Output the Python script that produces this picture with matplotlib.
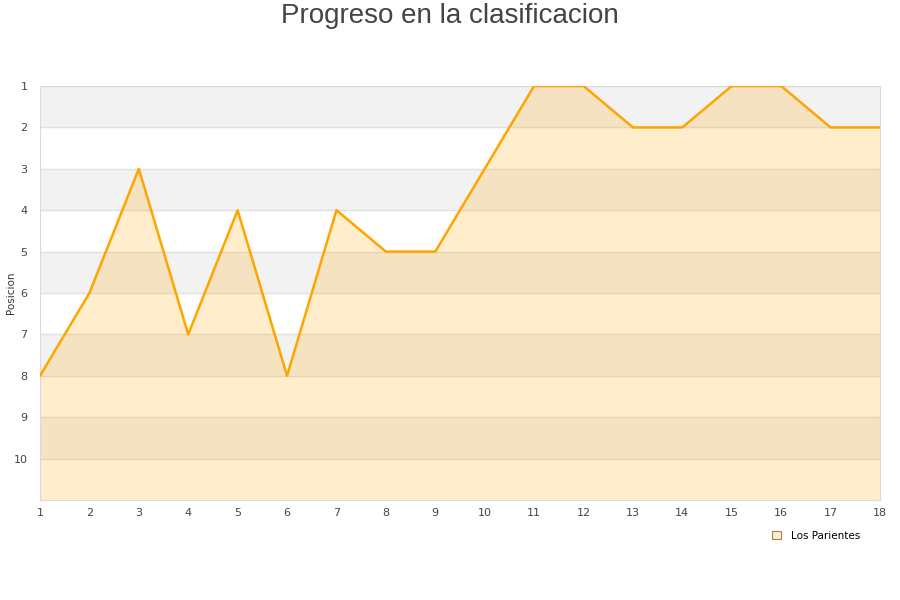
import matplotlib.pyplot as plt
from matplotlib.patches import Patch

# Datos
jornadas = list(range(1, 19))
posicion = [8, 6, 3, 7, 4, 8, 4, 5, 5, 3, 1, 1, 2, 2, 1, 1, 2, 2]
equipo = 'Los Parientes'
ticks_y = list(range(1, 11))

fig = plt.figure(figsize=(9, 6), dpi=100)
ax = fig.add_axes([40 / 900, 100 / 600, 840 / 900, 414 / 600])

# bandas alternas
for i in range(1, 11):
    if i % 2 == 1:
        ax.axhspan(i, i + 1, color='#f2f2f2', zorder=0, lw=0)
for i in range(1, 11):
    ax.axhline(i, color='#e0e0e0', lw=1, zorder=1)

ax.fill_between(jornadas, posicion, 11, color='#ffa500', alpha=0.2, lw=0, zorder=2)
ax.plot(jornadas, posicion, color='#ffa500', lw=1.8, zorder=3)

ax.set_xlim(1, 18)
ax.set_ylim(11, 1)
ax.set_xticks(jornadas)
ax.set_yticks(ticks_y)
ax.tick_params(length=0, labelsize=8, labelcolor='#444444', pad=9)
ax.tick_params(axis='x', pad=6)
for s in ax.spines.values():
    s.set_color('#d9d9d9')

fig.text(11 / 900, 1 - 293 / 600, 'Posicion', rotation=90, ha='center', va='center',
         fontsize=7.5, color='#333333')

fig.text(0.5, 1 - 16 / 600, 'Progreso en la clasificacion', ha='center', va='center',
         fontsize=20, color='#444444', family='Liberation Sans')

h = Patch(facecolor='#ffedcc', edgecolor='#a08060', lw=0.8)
fig.legend([h], [equipo], loc='center left', bbox_to_anchor=(763 / 900, 1 - 536 / 600),
           frameon=False, fontsize=7.5, handlelength=0.8, handleheight=0.8,
           handletextpad=1.0)

fig.savefig('out.png', dpi=100)
